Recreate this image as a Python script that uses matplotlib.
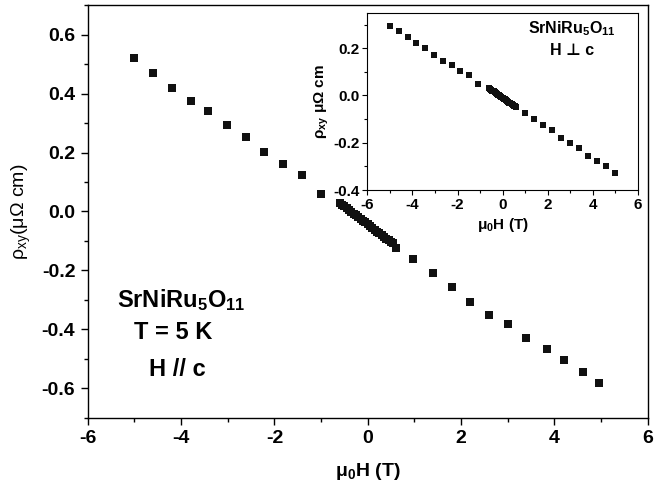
import matplotlib
matplotlib.use("Agg")
import matplotlib.pyplot as plt
from matplotlib.ticker import MultipleLocator

plt.rcParams['font.family'] = ['Liberation Sans', 'DejaVu Sans']
plt.rcParams['mathtext.fontset'] = 'custom'
plt.rcParams['mathtext.rm'] = 'Liberation Sans'
plt.rcParams['mathtext.bf'] = 'Liberation Sans:bold'
plt.rcParams['mathtext.it'] = 'Liberation Sans:italic'
plt.rcParams['axes.unicode_minus'] = False

# Main panel data (H // c)
main_h = [-5.01, -4.60, -4.20, -3.78, -3.42, -3.01, -2.61, -2.22, -1.81, -1.41, -1.01,
          -0.60, -0.55, -0.50, -0.45, -0.40, -0.35, -0.30, -0.25, -0.20, -0.15, -0.10, -0.05,
          0.00, 0.05, 0.10, 0.15, 0.20, 0.25, 0.30, 0.35, 0.40, 0.45, 0.50, 0.55, 0.61,
          0.96, 1.39, 1.80, 2.20, 2.60, 3.00, 3.40, 3.84, 4.20, 4.61, 4.95]
main_rho = [0.522, 0.468, 0.420, 0.373, 0.339, 0.293, 0.254, 0.202, 0.160, 0.125, 0.061,
            0.029, 0.023, 0.017, 0.011, 0.005, -0.001, -0.007, -0.013, -0.019, -0.025, -0.031, -0.037,
            -0.044, -0.050, -0.056, -0.062, -0.068, -0.074, -0.080, -0.086, -0.092, -0.097, -0.102, -0.108, -0.123,
            -0.162, -0.210, -0.257, -0.307, -0.351, -0.383, -0.429, -0.466, -0.505, -0.544, -0.580]

# Inset data (H perp c)
ins_h = [-5.00, -4.61, -4.22, -3.83, -3.43, -3.04, -2.65, -2.26, -1.87, -1.48, -1.09,
         -0.60, -0.55, -0.50, -0.45, -0.40, -0.35, -0.30, -0.25, -0.20, -0.15, -0.10, -0.05,
         0.00, 0.05, 0.10, 0.15, 0.20, 0.25, 0.30, 0.35, 0.40, 0.45, 0.50, 0.55, 0.60,
         0.99, 1.39, 1.81, 2.21, 2.59, 2.99, 3.39, 3.79, 4.19, 4.59, 4.99]
ins_rho = [0.292, 0.271, 0.246, 0.223, 0.199, 0.171, 0.148, 0.128, 0.104, 0.085, 0.049,
           0.030, 0.027, 0.023, 0.020, 0.017, 0.013, 0.010, 0.007, 0.004, 0.000, -0.003, -0.006,
           -0.010, -0.013, -0.016, -0.020, -0.023, -0.026, -0.030, -0.033, -0.036, -0.040, -0.043, -0.046, -0.049,
           -0.075, -0.099, -0.126, -0.145, -0.178, -0.203, -0.224, -0.257, -0.278, -0.299, -0.326]

fig = plt.figure(figsize=(6.55, 4.91), dpi=100)
ax = fig.add_axes([0.134, 0.1487, 0.855, 0.8411])
ax.plot(main_h, main_rho, 's', color='#111111', markersize=5.5, markeredgewidth=0)
ax.set_xlim(-6, 6)
ax.set_ylim(-0.7, 0.7)
ax.xaxis.set_major_locator(MultipleLocator(2))
ax.xaxis.set_minor_locator(MultipleLocator(1))
ax.yaxis.set_major_locator(MultipleLocator(0.2))
ax.yaxis.set_minor_locator(MultipleLocator(0.1))
ax.yaxis.set_major_formatter(plt.FuncFormatter(lambda v, p: f"{v:.1f}".replace("-0.0", "0.0")))
ax.tick_params(which='major', direction='out', length=5, width=1.0, labelsize=14, pad=4)
ax.tick_params(which='minor', direction='out', length=3, width=1.0)
for lab in ax.get_xticklabels() + ax.get_yticklabels():
    lab.set_fontweight('bold')
for s in ax.spines.values():
    s.set_linewidth(1.0)
ax.set_xlabel(r'μ$_\mathbf{0}$H (T)', fontsize=14, fontweight='bold', labelpad=10)
ax.set_ylabel(r'ρ$_\mathrm{xy}$(μΩ cm)', fontsize=14, labelpad=6)

ax.text(-4.0, -0.30, r'SrNiRu$_\mathbf{5}$O$_\mathbf{11}$', fontsize=17, fontweight='bold',
        ha='center', va='center')
ax.text(-4.17, -0.409, 'T = 5 K', fontsize=17, fontweight='bold', ha='center', va='center')
ax.text(-4.07, -0.534, 'H // c', fontsize=17, fontweight='bold', ha='center', va='center')

# Inset
ins = fig.add_axes([0.561, 0.613, 0.4125, 0.361])
ins.plot(ins_h, ins_rho, 's', color='#111111', markersize=3.8, markeredgewidth=0)
ins.set_xlim(-6, 6)
ins.set_ylim(-0.4, 0.35)
ins.xaxis.set_major_locator(MultipleLocator(2))
ins.xaxis.set_minor_locator(MultipleLocator(1))
ins.yaxis.set_major_locator(MultipleLocator(0.2))
ins.yaxis.set_minor_locator(MultipleLocator(0.1))
ins.yaxis.set_major_formatter(plt.FuncFormatter(lambda v, p: f"{v:.1f}".replace("-0.0", "0.0")))
ins.tick_params(which='major', direction='out', length=3.5, width=0.8, labelsize=11, pad=2)
ins.tick_params(which='minor', direction='out', length=2, width=0.8)
for lab in ins.get_xticklabels() + ins.get_yticklabels():
    lab.set_fontweight('bold')
for s in ins.spines.values():
    s.set_linewidth(0.8)
ins.set_xlabel(r'μ$_\mathbf{0}$H (T)', fontsize=11, fontweight='bold', labelpad=3)
ins.set_ylabel(r'ρ$_\mathbf{xy}$ μΩ cm', fontsize=11, fontweight='bold', labelpad=2)
ins.text(3.09, 0.284, r'SrNiRu$_\mathbf{5}$O$_\mathbf{11}$', fontsize=11.5, fontweight='bold',
         ha='center', va='center')
ins.text(3.09, 0.19, 'H ⊥ c', fontsize=11.5, fontweight='bold', ha='center', va='center')

fig.savefig('out.png', dpi=100)
